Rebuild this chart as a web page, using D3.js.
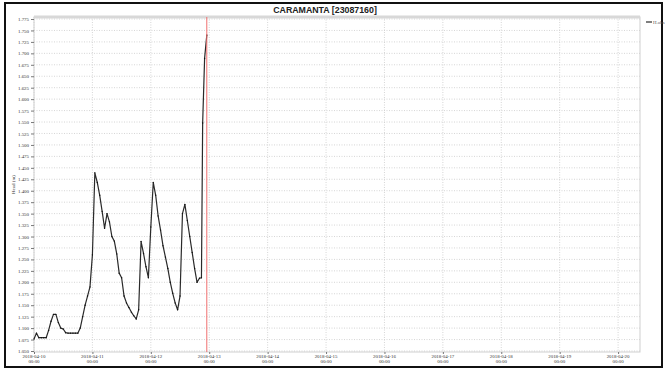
<!DOCTYPE html>
<html>
<head>
<meta charset="utf-8">
<script src="https://cdn.jsdelivr.net/npm/d3@7"></script>
<style>
  body { margin: 0; background: #fff; }
  svg { display: block; }
</style>
</head>
<body>
<div id="chart"></div>
<script>
// hours since 2018-04-10 00:00
var hours = [0, 1, 2, 3, 4, 5, 6, 7, 8, 9, 10, 11, 12, 13, 14, 15, 16, 17, 18, 19,
    20, 21, 22, 23, 24, 25, 26, 27, 28, 29, 30, 31, 32, 33, 34, 35, 36, 37, 38, 39,
    40, 41, 42, 43, 44, 45, 46, 47, 48, 49, 50, 51, 52, 53, 54, 55, 56, 57, 58, 59,
    60, 61, 62, 63, 64, 65, 66, 67, 68, 68.8, 69.3, 70.1, 71];
var head = [1.076, 1.089, 1.079, 1.079, 1.079, 1.079, 1.095, 1.115, 1.130, 1.130,
    1.112, 1.100, 1.098, 1.090, 1.089, 1.089, 1.089, 1.089, 1.089, 1.100,
    1.125, 1.150, 1.170, 1.190, 1.260, 1.439, 1.418, 1.390, 1.355, 1.318,
    1.350, 1.332, 1.300, 1.290, 1.262, 1.220, 1.210, 1.170, 1.155, 1.145,
    1.135, 1.127, 1.120, 1.140, 1.289, 1.263, 1.234, 1.210, 1.321, 1.418,
    1.390, 1.345, 1.314, 1.280, 1.255, 1.230, 1.200, 1.176, 1.155, 1.140,
    1.170, 1.350, 1.370, 1.335, 1.300, 1.265, 1.230, 1.200, 1.209, 1.210,
    1.548, 1.689, 1.740];

var xTicks = ["2018-04-10", "2018-04-11", "2018-04-12", "2018-04-13", "2018-04-14",
    "2018-04-15", "2018-04-16", "2018-04-17", "2018-04-18", "2018-04-19", "2018-04-20"];
var yTicks = [1.050, 1.075, 1.100, 1.125, 1.150, 1.175, 1.200, 1.225, 1.250, 1.275,
    1.300, 1.325, 1.350, 1.375, 1.400, 1.425, 1.450, 1.475, 1.500, 1.525,
    1.550, 1.575, 1.600, 1.625, 1.650, 1.675, 1.700, 1.725, 1.750, 1.775];

var title = "CARAMANTA [23087160]";
var seriesName = "H.obs";
var nowTime = "2018-04-12 23:00";

var parseDay = d3.timeParse("%Y-%m-%d");
var parseTime = d3.timeParse("%Y-%m-%d %H:%M");
var start = parseDay("2018-04-10");

var data = hours.map(function (h, i) {
    return { t: d3.timeMinute.offset(start, Math.round(h * 60)), v: head[i] };
});

var width = 665, height = 370;
var plot = { left: 34, right: 640, top: 17, bottom: 352 };

var svg = d3.select("#chart").append("svg")
    .attr("width", width)
    .attr("height", height);

// outer frame
svg.append("rect")
    .attr("x", 5).attr("y", 3)
    .attr("width", 657).attr("height", 364)
    .attr("fill", "none")
    .attr("stroke", "#111")
    .attr("stroke-width", 2);

svg.append("text")
    .attr("x", 325).attr("y", 13)
    .attr("text-anchor", "middle")
    .attr("font-family", "Liberation Sans, Arial, sans-serif")
    .attr("font-weight", "bold")
    .attr("font-size", 8.8)
    .attr("fill", "#222")
    .text(title);

var x = d3.scaleTime()
    .domain([parseDay("2018-04-10"), parseTime("2018-04-20 09:00")])
    .range([plot.left, plot.right]);

var y = d3.scaleLinear()
    .domain([1.05, 1.775])
    .range([351, 19]);

// grid
svg.append("g").selectAll("line")
    .data(yTicks)
    .enter().append("line")
    .attr("x1", plot.left).attr("x2", plot.right)
    .attr("y1", function (d) { return y(d); })
    .attr("y2", function (d) { return y(d); })
    .attr("stroke", "#cccccc")
    .attr("stroke-width", 0.8)
    .attr("stroke-dasharray", "1,1.5");

svg.append("g").selectAll("line")
    .data(xTicks)
    .enter().append("line")
    .attr("x1", function (d) { return x(parseDay(d)); })
    .attr("x2", function (d) { return x(parseDay(d)); })
    .attr("y1", plot.top).attr("y2", plot.bottom)
    .attr("stroke", "#cccccc")
    .attr("stroke-width", 0.8)
    .attr("stroke-dasharray", "1,1.5");

// plot frame
svg.append("rect")
    .attr("x", plot.left).attr("y", plot.top)
    .attr("width", plot.right - plot.left)
    .attr("height", plot.bottom - plot.top)
    .attr("fill", "none")
    .attr("stroke", "#cfcfcf")
    .attr("stroke-width", 1);
svg.append("line")
    .attr("x1", plot.left).attr("x2", plot.right)
    .attr("y1", plot.top).attr("y2", plot.top)
    .attr("stroke", "#d8d8d8")
    .attr("stroke-width", 3);

// axes
var yAxis = d3.axisLeft(y)
    .tickValues(yTicks)
    .tickSize(3)
    .tickPadding(2)
    .tickFormat(d3.format(".3f"));

var gy = svg.append("g")
    .attr("transform", "translate(" + plot.left + ",0)")
    .call(yAxis);
gy.select(".domain").remove();
gy.selectAll("line").attr("stroke", "#777");
gy.selectAll("text")
    .attr("font-family", "Liberation Serif, serif")
    .attr("font-size", 4.9)
    .attr("fill", "#333");

var xAxis = d3.axisBottom(x)
    .tickValues(xTicks.map(parseDay))
    .tickSize(2)
    .tickFormat("");

var gx = svg.append("g")
    .attr("transform", "translate(0," + plot.bottom + ")")
    .call(xAxis);
gx.select(".domain").remove();
gx.selectAll("line").attr("stroke", "#777");

var xl = svg.append("g").selectAll("text")
    .data(xTicks)
    .enter().append("text")
    .attr("x", function (d) { return x(parseDay(d)); })
    .attr("y", 358)
    .attr("text-anchor", "middle")
    .attr("font-family", "Liberation Serif, serif")
    .attr("font-size", 4.9)
    .attr("fill", "#333");
xl.append("tspan")
    .attr("x", function (d) { return x(parseDay(d)); })
    .text(function (d) { return d; });
xl.append("tspan")
    .attr("x", function (d) { return x(parseDay(d)); })
    .attr("dy", 5)
    .text("00:00");

svg.append("text")
    .attr("transform", "translate(15," + (plot.top + plot.bottom) / 2 + ") rotate(-90)")
    .attr("text-anchor", "middle")
    .attr("font-family", "Liberation Serif, serif")
    .attr("font-size", 5)
    .attr("fill", "#333")
    .text("Head (m)");

// series
var line = d3.line()
    .x(function (d) { return x(d.t); })
    .y(function (d) { return y(d.v); });

svg.append("path")
    .datum(data)
    .attr("d", line)
    .attr("fill", "none")
    .attr("stroke", "#2a2a2a")
    .attr("stroke-width", 1.2)
    .attr("stroke-linejoin", "round");

svg.append("g").selectAll("circle")
    .data(data)
    .enter().append("circle")
    .attr("cx", function (d) { return x(d.t); })
    .attr("cy", function (d) { return y(d.v); })
    .attr("r", 0.7)
    .attr("fill", "#111");

// current time marker
svg.append("line")
    .attr("x1", x(parseTime(nowTime))).attr("x2", x(parseTime(nowTime)))
    .attr("y1", plot.top).attr("y2", plot.bottom)
    .attr("stroke", "#f07070")
    .attr("stroke-width", 1);

// legend
svg.append("line")
    .attr("x1", 646).attr("x2", 652)
    .attr("y1", 22).attr("y2", 22)
    .attr("stroke", "#2a2a2a")
    .attr("stroke-width", 1.2);
svg.append("text")
    .attr("x", 653).attr("y", 23.5)
    .attr("font-family", "Liberation Serif, serif")
    .attr("font-size", 4.9)
    .attr("fill", "#555")
    .text(seriesName);
</script>
</body>
</html>
